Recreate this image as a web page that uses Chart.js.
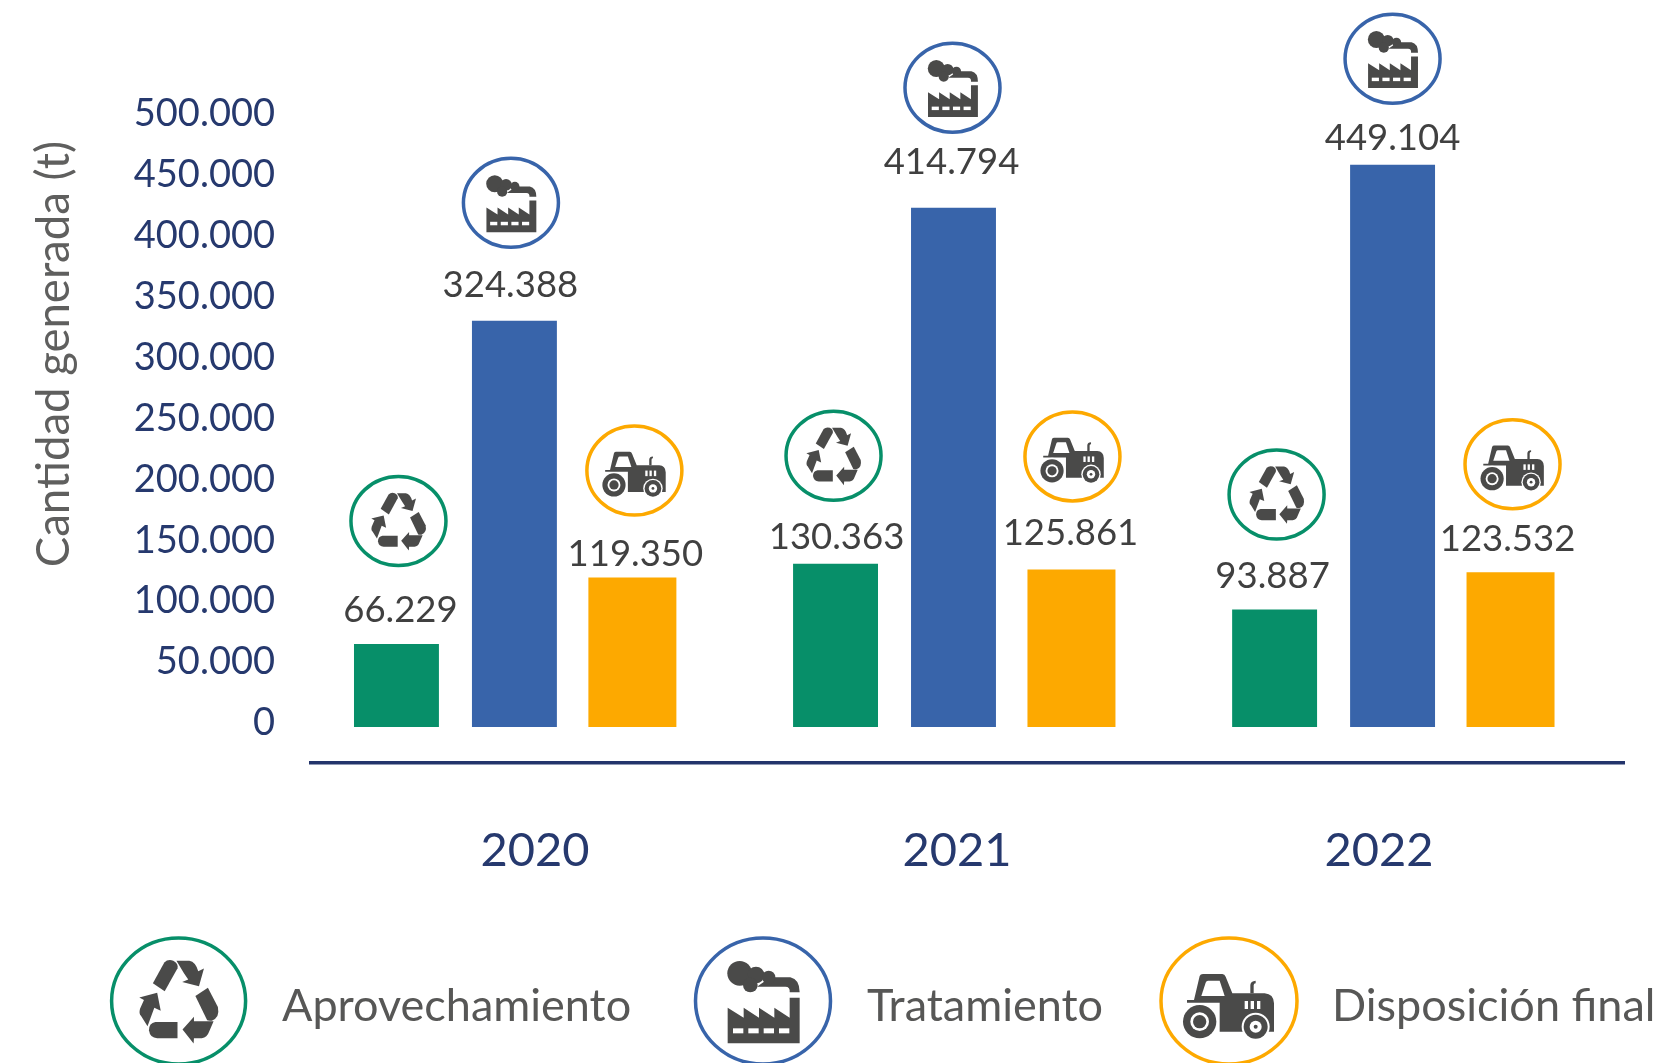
<!DOCTYPE html>
<html lang="es">
<head>
<meta charset="utf-8">
<title>Cantidad generada</title>
<style>html,body{margin:0;padding:0;background:#fff}canvas{display:block}</style>
<script src="https://cdn.jsdelivr.net/npm/chart.js@4"></script>
</head>
<body>
<canvas id="c" width="1661" height="1063"></canvas>
<script>
const years = [2020, 2021, 2022];
const seriesNames = ["Aprovechamiento", "Tratamiento", "Disposición final"];
const aprovechamiento = [66229, 130363, 93887];
const tratamiento = [324388, 414794, 449104];
const disposicionFinal = [119350, 125861, 123532];
const tickValues = [0, 50000, 100000, 150000, 200000, 250000, 300000, 350000, 400000, 450000, 500000];
const axisTitle = "Cantidad generada (t)";

const colors = ["#078F69", "#3864AA", "#FDA900"];
const INK = "#4A4A49", NAVY = "#26396E", FONT = "Lato, sans-serif";

// annotation offsets relative to each bar's top-centre (px)
const labelDx = [[4, 1, -2], [-4, -2, 0], [3, -1, -3]];
const labelDy = [[34, 27, 33], [36, 45, 26], [23, 36, 33]];
const iconDx = [[2, -2, 2], [-3.5, -1, 0], [2, 1, 2]];
const iconDy = [[123, 108, 115], [118, 120, 106], [107, 113, 108]];
const legendLayout = [
  { cx: 178.6, rx: 67, tx: 282 },
  { cx: 763, rx: 67.5, tx: 867 },
  { cx: 1229, rx: 68, tx: 1332 }
];

// ---- icons, drawn in zoomed units around (0,0) ----
function recycle(ctx) {
  const pieces = [
    "M-72-50L-40-108Q-30-118-15-113Q0-105-3-92L-39-27Z",
    "M-6-113L30-113Q48-110 55-83L71-91L57-41L10-53L27-60L15-78Z",
    "M47-14L82-37L110 17Q116 47 93 55Q84 56 80 54Z",
    "M98 57L43 57L43 44L11 80L42 119L43 104L65 104Q80 102 85 87Z",
    "M-3 59L-65 59Q-83 62-83 82Q-80 104-60 104L-3 104Z",
    "M-60-23L-110-10L-97-3L-108 22Q-112 37-105 42L-87 71L-68 19L-50 27Z"
  ];
  pieces.forEach(p => ctx.fill(new Path2D(p)));
}
function factory(ctx) {
  ctx.fill(new Path2D("M-106 20L-58 50L-58 20L-12 50L-12 20L34 50L34 20L80 50L80-10L110-10L110 127L-106 127Z"));
  ctx.fill(new Path2D("M22-71L82-71Q110-65 110-26L80-26Q82-43 67-43L-18-43Z"));
  [[-70, -83, 37], [-21, -78, 25], [-38, -48, 22], [17, -71, 20]].forEach(c => {
    ctx.beginPath(); ctx.arc(c[0], c[1], c[2], 0, Math.PI * 2); ctx.fill();
  });
  ctx.fillStyle = "#fff";
  [-90, -44, 2, 48].forEach(x => ctx.fillRect(x, 82, 31, 15));
}
function tractor(ctx) {
  const circle = (x, y, r, fill) => {
    ctx.fillStyle = fill; ctx.beginPath(); ctx.arc(x, y, r, 0, Math.PI * 2); ctx.fill();
  };
  ctx.fill(new Path2D("M-126-3L-105-3L-88-75Q-86-81-78-81L-20-81Q-13-81-10-73L10-23L107-23Q134-21 135 7L135 92L-28 92L-28 5L-126 5Z"));
  ctx.fill(new Path2D("M64-23L64-48Q65-60 80-61L80-53Q74-53 74-47L74-23Z"));
  ctx.fillStyle = "#fff";
  ctx.fill(new Path2D("M-83-15L-70-55Q-68-61-63-61L-28-61L-13-15Z"));
  [47, 65, 84].forEach(x => ctx.fillRect(x, 0, 10, 24));
  circle(-88, 62, 56, "#fff");
  circle(-88, 62, 50, INK);
  circle(-88, 62, 28, "#fff");
  circle(-88, 62, 20, INK);
  circle(80, 77, 42, "#fff");
  circle(80, 77, 36, INK);
  circle(80, 77, 18, "#fff");
  circle(80, 77, 6, INK);
}
const iconDraw = [recycle, factory, tractor];
const iconScale = [0.247, 0.231, 0.232];   // scale in a small ring
const iconLegendScale = [1 / 2.8, 1 / 3, 1 / 3];

function drawBadge(ctx, s, cx, cy, rx, ry, scale) {
  ctx.save();
  ctx.strokeStyle = colors[s];
  ctx.lineWidth = 3.5;
  ctx.beginPath();
  ctx.ellipse(cx, cy, rx, ry, 0, 0, Math.PI * 2);
  ctx.stroke();
  ctx.translate(cx, cy);
  ctx.scale(scale, scale);
  ctx.fillStyle = INK;
  iconDraw[s](ctx);
  ctx.restore();
}

const annotate = {
  id: "annotate",
  afterDatasetsDraw(chart) {
    const ctx = chart.ctx;
    ctx.save();
    ctx.textAlign = "center";
    ctx.textBaseline = "middle";
    ctx.font = "36.5px " + FONT;
    chart.data.datasets.forEach((ds, s) => {
      chart.getDatasetMeta(s).data.forEach((bar, i) => {
        ctx.fillStyle = "#404040";
        ctx.fillText(ds.data[i].y.toLocaleString("de-DE"), bar.x + labelDx[s][i], bar.y - labelDy[s][i]);
        drawBadge(ctx, s, bar.x + iconDx[s][i], bar.y - iconDy[s][i], 47.5, 44.5, iconScale[s]);
      });
    });
    ctx.restore();
  },
  afterDraw(chart) {
    const ctx = chart.ctx;
    ctx.save();
    // axis title
    ctx.save();
    ctx.translate(54, 354);
    ctx.rotate(-Math.PI / 2);
    ctx.textAlign = "center";
    ctx.textBaseline = "middle";
    ctx.fillStyle = "#5F5F5E";
    ctx.font = "45.5px " + FONT;
    ctx.fillText(axisTitle, 0, 0);
    ctx.restore();
    // legend
    seriesNames.forEach((name, s) => {
      const l = legendLayout[s];
      drawBadge(ctx, s, l.cx, 1001, l.rx, 63, iconLegendScale[s]);
      ctx.textAlign = "left";
      ctx.textBaseline = "alphabetic";
      ctx.fillStyle = "#575756";
      ctx.font = "45px " + FONT;
      ctx.fillText(name, l.tx, 1021);
    });
    ctx.restore();
  }
};

const zeroPad = s => { s.paddingTop = s.paddingBottom = s.paddingLeft = s.paddingRight = 0; };
const yearTicks = s => { s.ticks = years.map(v => ({ value: v })); };
const makeDataset = (values, s) => ({
  label: seriesNames[s],
  data: years.map((y, i) => ({ x: y, y: values[i] })),
  backgroundColor: colors[s],
  borderWidth: 0,
  xAxisID: "x",
  yAxisID: "y",
  categoryPercentage: 0.806,
  barPercentage: s === 2 ? 0.746 : 0.72
});

new Chart(document.getElementById("c"), {
  type: "bar",
  data: { datasets: [aprovechamiento, tratamiento, disposicionFinal].map(makeDataset) },
  plugins: [annotate],
  options: {
    responsive: false,
    animation: false,
    devicePixelRatio: 1,
    layout: { padding: { left: 0, top: 0, bottom: 0, right: 37 } },
    plugins: { legend: { display: false }, tooltip: { enabled: false }, title: { display: false } },
    scales: {
      // bar scales: zero on the bar baseline
      x: {
        type: "linear", axis: "x", position: "bottom", display: false, offset: false,
        min: 2019.5367, max: 2022.5271, grid: { display: false },
        afterBuildTicks: yearTicks
      },
      y: {
        type: "linear", axis: "y", position: "left", display: false,
        min: -28754, max: 580671, grid: { display: false }
      },
      // visible tick axis
      yTicks: {
        type: "linear", axis: "y", position: "left",
        min: -32841, max: 593596,
        border: { display: false },
        grid: { display: false, drawTicks: false },
        afterBuildTicks: s => { s.ticks = tickValues.map(v => ({ value: v })); },
        afterFit: s => { s.width = 311; zeroPad(s); },
        ticks: {
          padding: 36, color: NAVY, autoSkip: false,
          font: { family: FONT, size: 38 },
          callback: v => Number(v).toLocaleString("de-DE")
        }
      },
      // visible year axis carrying the baseline
      xYears: {
        type: "linear", axis: "x", position: "bottom",
        min: 2019.4693, max: 2022.5803, offset: false,
        border: { display: true, color: "#23346B", width: 3.5 },
        grid: { display: false, drawTicks: false },
        afterBuildTicks: yearTicks,
        afterFit: s => { s.height = 300; zeroPad(s); },
        ticks: {
          padding: 60, color: NAVY, autoSkip: false, maxRotation: 0,
          font: { family: FONT, size: 47 },
          callback: v => String(v)
        }
      }
    }
  }
});
</script>
</body>
</html>
